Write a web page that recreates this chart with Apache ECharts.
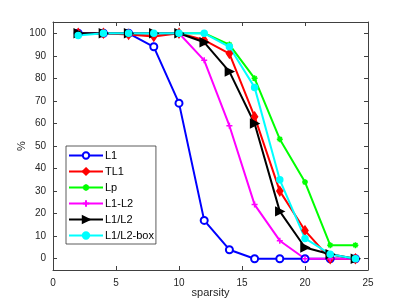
<!DOCTYPE html>
<html><head><meta charset="utf-8">
<script src="https://cdn.jsdelivr.net/npm/echarts@6/dist/echarts.min.js"></script>
<style>html,body{margin:0;padding:0;background:#fff}#c{width:407px;height:305px}</style>
</head><body><div id="c"></div>
<script>
const sparsity = [2,4,6,8,10,12,14,16,18,20,22,24];
const L1     = [100,100,100,94,69,17,4,0,0,0,0,0];
const TL1    = [100,100,99.5,98.6,100,97,91,63,30,12.5,0,0];
const Lp     = [100,100,100,100,100,100,95,80,53,34,6,6];
const L1L2   = [100,100,100,100,100,88,59,24,8,0,0,0];
const L1dL2  = [100,100,100,100,100,96,83,60,21,5,2,0];
const L1L2box= [99,100,100,100,100,100,94,76,35,9,2,0];
const xTicks = [0,5,10,15,20,25];
const yTicks = [0,10,20,30,40,50,60,70,80,90,100];

const pair = a => sparsity.map((x,i)=>[x,a[i]]);
const font = 'Liberation Sans, Arial, Helvetica, sans-serif';
const axCol = '#404040';
const plus = 'path://M5,0L5,10M0,5L10,5';
const star = 'path://M5,0L5,10M0,5L10,5M1.5,1.5L8.5,8.5M1.5,8.5L8.5,1.5';

function ser(name, data, color, symbol, size, extra) {
  return Object.assign({
    name, type:'line', data: pair(data), symbol, symbolSize: size,
    lineStyle:{color, width:2}, itemStyle:{color, borderColor:color, borderWidth:1.5},
    emphasis:{disabled:true}, animation:false, z:2
  }, extra||{});
}
const chart = echarts.init(document.getElementById('c'), null, {renderer:'canvas'});
const commonX = {type:'value', min:0, max:25, interval:5,
  axisLine:{show:true, onZero:false, lineStyle:{color:axCol, width:1}},
  axisTick:{show:true, inside:true, length:4, lineStyle:{color:axCol}},
  splitLine:{show:false}};
const commonY = {type:'value', min:-5, max:105,
  axisLine:{show:true, onZero:false, lineStyle:{color:axCol, width:1}},
  axisTick:{show:true, inside:true, length:4, customValues:yTicks, lineStyle:{color:axCol}},
  splitLine:{show:false}};
chart.setOption({
  backgroundColor:'#fff',
  animation:false,
  grid:{left:53, right:39, top:22, bottom:35, containLabel:false, outerBoundsMode:'none'},
  xAxis:[
    Object.assign({}, commonX, {position:'bottom', name:'sparsity', nameLocation:'middle', nameGap:17,
      nameMoveOverlap:false,
      nameTextStyle:{color:'#262626', fontFamily:font, fontSize:11},
      axisLabel:{color:'#262626', fontFamily:font, fontSize:10, margin:8}}),
    Object.assign({}, commonX, {position:'top', axisLabel:{show:false}})
  ],
  yAxis:[
    Object.assign({}, commonY, {position:'left', name:'%', nameLocation:'middle', nameGap:26,
      nameMoveOverlap:false,
      nameTextStyle:{color:'#262626', fontFamily:font, fontSize:11},
      axisLabel:{color:'#262626', fontFamily:font, fontSize:10, margin:7, customValues:yTicks}}),
    Object.assign({}, commonY, {position:'right', axisLabel:{show:false}})
  ],
  legend:{
    orient:'vertical', left:66, top:146, padding:[4,2,3,2], itemGap:5,
    itemWidth:34, itemHeight:8, backgroundColor:'#fff', borderColor:'#333', borderWidth:0.8,
    textStyle:{color:'#000', fontFamily:font, fontSize:11, padding:[0,0,0,-3]},
    data:['L1','TL1','Lp','L1-L2','L1/L2','L1/L2-box']
  },
  series:[
    ser('L1', L1, '#0000ff', 'emptyCircle', 7, {itemStyle:{color:'#0000ff', borderColor:'#0000ff', borderWidth:1.5}}),
    ser('TL1', TL1, '#ff0000', 'diamond', [6,9]),
    ser('Lp', Lp, '#00ff00', star, 6),
    ser('L1-L2', L1L2, '#ff00ff', plus, 6),
    ser('L1/L2', L1dL2, '#000000', 'triangle', [8,8], {symbolRotate:-90}),
    ser('L1/L2-box', L1L2box, '#00ffff', 'circle', 6)
  ]
});
</script></body></html>
